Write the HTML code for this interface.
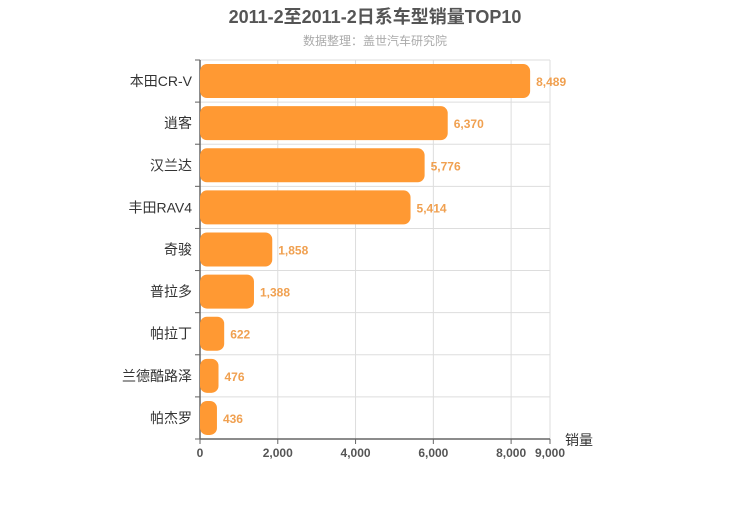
<!DOCTYPE html>
<html><head><meta charset="utf-8"><style>
body{margin:0;background:#fff;width:750px;height:500px;overflow:hidden}
text{font-family:"Liberation Sans","Noto Sans CJK SC",sans-serif}
</style></head><body>
<svg id="c" width="750" height="500">
<text x="375" y="23" text-anchor="middle" font-size="18" font-weight="bold" fill="#555">2011-2至2011-2日系车型销量TOP10</text>
<text x="375" y="45" text-anchor="middle" font-size="12" fill="#aaa">数据整理：盖世汽车研究院</text>
<g id="g"></g>
</svg>
<script>
const categories=["本田CR-V","逍客","汉兰达","丰田RAV4","奇骏","普拉多","帕拉丁","兰德酷路泽","帕杰罗"];
const sales=[8489,6370,5776,5414,1858,1388,622,476,436];
const ticks=[0,2000,4000,6000,8000,9000];
const tickLabels=["0","2,000","4,000","6,000","8,000","9,000"];
const X0=200,X1=550,Y0=60,Y1=439,MAX=9000;
const x=v=>X0+v/MAX*(X1-X0);
const rh=(Y1-Y0)/categories.length;
const y=i=>Y0+i*rh;
const g=document.getElementById('g');
const NS='http://www.w3.org/2000/svg';
function mk(t,a){const e=document.createElementNS(NS,t);for(const k in a)e.setAttribute(k,a[k]);g.appendChild(e);return e;}
ticks.forEach((t,i)=>{
 const l=mk('line',{x1:x(t),x2:x(t),y1:Y0,y2:Y1,stroke:'#ddd'});
 
 
 const tk=mk('line',{x1:x(t),x2:x(t),y1:Y1,y2:Y1+5,stroke:'#666'});
 
 
 const tx=mk('text',{x:x(t),y:Y1+18,'text-anchor':'middle','font-size':12,'font-weight':'bold',fill:'#555'});
 tx.textContent=tickLabels[i];
 
 
});
for(let i=0;i<=categories.length;i++){
 const l=mk('line',{x1:X0-5,x2:X1,y1:y(i),y2:y(i),stroke:'#ddd'});
 
 
 const tk=mk('line',{x1:X0-5,x2:X0,y1:y(i),y2:y(i),stroke:'#666'});
 
 
}
const ax=mk('line',{x1:X0,x2:X0,y1:Y0,y2:Y1,stroke:'#666','stroke-width':1.5});


const bx=mk('line',{x1:X0,x2:X1,y1:Y1,y2:Y1,stroke:'#666','stroke-width':1.5});


categories.forEach((c,i)=>{
 const cy=y(i)+rh/2;
 const r=mk('rect',{x:X0,y:cy-17,width:x(sales[i])-X0,height:34,rx:7,fill:'#ff9933'});
 
 
 const v=mk('text',{x:x(sales[i])+6,y:cy+5,'font-size':12,'font-weight':'bold',fill:'#f0a050'});
 v.textContent=sales[i].toLocaleString('en-US');
 
 
 const t=mk('text',{x:X0-8,y:cy+5,'text-anchor':'end','font-size':14,fill:'#333'});
 t.textContent=c;
 
 
});
const at=mk('text',{x:565,y:445,'font-size':14,fill:'#333'});
at.textContent='销量';


</script>
</body></html>
